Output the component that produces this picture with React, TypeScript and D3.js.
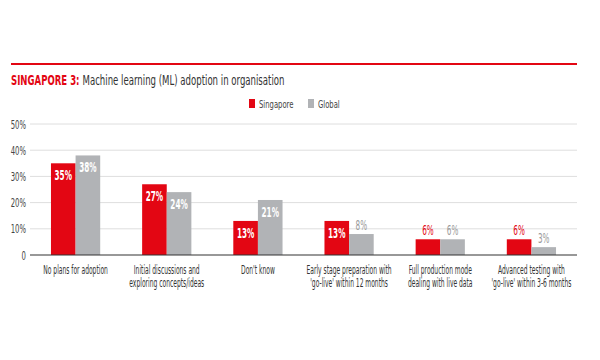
import * as d3 from "d3";
import React, { useEffect, useRef } from "react";

const categories = [
  ["No plans for adoption"],
  ["Initial discussions and", "exploring concepts/ideas"],
  ["Don't know"],
  ["Early stage preparation with", "'go-live' within 12 months"],
  ["Full production mode", "dealing with live data"],
  ["Advanced testing with", "'go-live' within 3-6 months"],
];
const singapore = [35, 27, 13, 13, 6, 6];
const global = [38, 24, 21, 8, 6, 3];
const yTicks = [0, 10, 20, 30, 40, 50];

const RED = "#e30613";
const GREY = "#b1b3b6";
const FONT = "'DejaVu Sans Condensed', 'DejaVu Sans', sans-serif";

// the source uses a very narrow face, so squeeze a condensed one horizontally
function narrowText(parent: any, x: number, y: number, size: number, k: number) {
  return parent.append("g")
    .attr("transform", `translate(${x},${y}) scale(${k},1)`)
    .append("text")
    .style("font-family", FONT)
    .style("font-size", `${size}px`);
}

export default function App() {
  const ref = useRef<SVGSVGElement>(null);

  useEffect(() => {
    const svg = d3.select(ref.current);
    svg.selectAll("*").remove();

    const margin = { left: 30, right: 23, top: 124, bottom: 105 };
    const width = 600, height = 360;

    const x = d3.scaleBand<number>()
      .domain(categories.map((_, i) => i))
      .range([margin.left, width - margin.right])
      .paddingInner(0.46)
      .paddingOuter(0.23);
    const y = d3.scaleLinear().domain([0, 50]).range([height - margin.bottom, margin.top]);
    const bw = x.bandwidth() / 2;

    // top rule
    svg.append("line")
      .attr("x1", 11).attr("x2", 577).attr("y1", 64).attr("y2", 64)
      .attr("stroke", RED).attr("stroke-width", 2);

    // title
    const title = narrowText(svg, 11, 85, 14, 0.68);
    title.append("tspan").attr("fill", RED).attr("font-weight", "bold").text("SINGAPORE 3: ");
    title.append("tspan").attr("fill", "#333").text("Machine learning (ML) adoption in organisation");

    // legend
    const legend = [["Singapore", RED, 249], ["Global", GREY, 308]] as const;
    legend.forEach(([name, c, lx]) => {
      svg.append("rect").attr("x", lx).attr("y", 99).attr("width", 6).attr("height", 9).attr("fill", c);
      narrowText(svg, lx + 10, 108, 11, 0.69).attr("fill", "#444").text(name);
    });

    // grid + y axis labels
    const yAxis = svg.append("g");
    yTicks.forEach(t => {
      if (t > 0) {
        yAxis.append("line")
          .attr("x1", margin.left).attr("x2", width - margin.right)
          .attr("y1", y(t)).attr("y2", y(t))
          .attr("stroke", "#dedede").attr("stroke-width", 1);
      }
      narrowText(yAxis, 26, y(t) + 4.5, 12, 0.64)
        .attr("text-anchor", "end").attr("fill", "#444")
        .text(t === 0 ? "0" : `${t}%`);
    });

    const series = [
      { values: singapore, color: RED, off: 0, outColor: RED },
      { values: global, color: GREY, off: 1, outColor: "#9a9a9a" },
    ];

    series.forEach(s => {
      const g = svg.append("g");
      g.selectAll("rect").data(s.values).join("rect")
        .attr("x", (_, i) => x(i)! + s.off * bw)
        .attr("y", d => y(d))
        .attr("width", bw)
        .attr("height", d => y(0) - y(d))
        .attr("fill", s.color);

      s.values.forEach((d, i) => {
        const inside = d >= 10;
        narrowText(g, x(i)! + s.off * bw + bw / 2, inside ? y(d) + 17 : y(d) - 4.5, 13.5, 0.6)
          .attr("text-anchor", "middle")
          .attr("font-weight", inside ? "bold" : "normal")
          .attr("fill", inside ? "#fff" : s.outColor)
          .text(`${d}%`);
      });
    });

    // baseline
    svg.append("line")
      .attr("x1", margin.left).attr("x2", width - margin.right)
      .attr("y1", y(0)).attr("y2", y(0))
      .attr("stroke", "#333").attr("stroke-width", 1.2);

    // category labels
    categories.forEach((lines, i) => {
      const cx = x(i)! + x.bandwidth() / 2;
      lines.forEach((l, k) => {
        narrowText(svg, cx, 274 + k * 13, 11.5, 0.58)
          .attr("text-anchor", "middle").attr("fill", "#333").text(l);
      });
    });
  }, []);

  return (
    <svg ref={ref} width={600} height={360} style={{ position: "absolute", left: 0, top: 0, background: "#fff" }} />
  );
}
